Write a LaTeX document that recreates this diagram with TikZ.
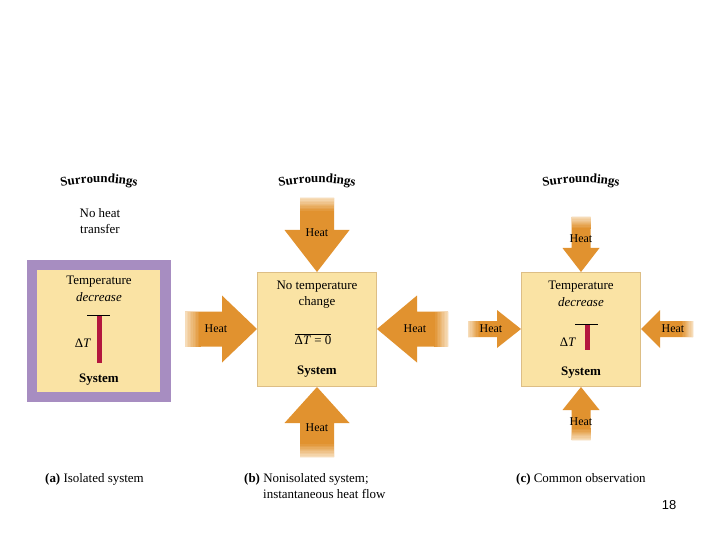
\documentclass[tikz,border=0pt]{standalone}
\usepackage{fontspec}
\setmainfont{Liberation Serif}
\newfontfamily\sansf{Liberation Sans}
\usetikzlibrary{decorations.text}
\definecolor{heatorange}{HTML}{E1922F}
\definecolor{heatlight}{HTML}{F8E4C8}
\definecolor{sysyellow}{HTML}{FAE3A4}
\definecolor{sysedge}{HTML}{DDBE85}
\definecolor{isopurple}{HTML}{A78DC1}
\definecolor{thermred}{HTML}{B3173E}
% manual fade strips: x0,y0 of strip start, dx,dy step per strip, w,h of strip
\newcommand\fadestrips[6]{%
  \foreach \k in {0,...,9}{%
    \pgfmathsetmacro\pc{100-(9-\k)*10}%
    \fill[heatorange!\pc!heatlight] (#1+\k*#3,#2+\k*#4) rectangle ++(#5,#6);}}
% tipx, tipy, headlen, headhalf, shafthalf, shaftlen, fadelen
\newcommand\arrowR[7]{%
  \fill[heatorange] (#1,#2) -- ++(-#3,-#4) -- ++(0,#4-#5) -- ++(-#6,0) -- ++(0,2*#5) -- ++(#6,0) -- ++(0,#4-#5) -- cycle;
  \fadestrips{#1-#3-#6}{#2-#5}{#7/10}{0}{#7/10+0.3}{2*#5}}
\newcommand\arrowL[7]{%
  \fill[heatorange] (#1,#2) -- ++(#3,-#4) -- ++(0,#4-#5) -- ++(#6,0) -- ++(0,2*#5) -- ++(-#6,0) -- ++(0,#4-#5) -- cycle;
  \fadestrips{#1+#3+#6}{#2-#5}{-#7/10}{0}{-#7/10-0.3}{2*#5}}
\newcommand\arrowD[7]{%
  \fill[heatorange] (#1,#2) -- ++(-#4,-#3) -- ++(#4-#5,0) -- ++(0,-#6) -- ++(2*#5,0) -- ++(0,#6) -- ++(#4-#5,0) -- cycle;
  \fadestrips{#1-#5}{#2-#3-#6}{0}{#7/10}{2*#5}{#7/10+0.3}}
\newcommand\arrowU[7]{%
  \fill[heatorange] (#1,#2) -- ++(-#4,#3) -- ++(#4-#5,0) -- ++(0,#6) -- ++(2*#5,0) -- ++(0,-#6) -- ++(#4-#5,0) -- cycle;
  \fadestrips{#1-#5}{#2+#3+#6}{0}{-#7/10}{2*#5}{-#7/10-0.3}}
\tikzset{
  sysbox/.style={fill=sysyellow,draw=sysedge,line width=0.6pt,inner sep=0pt,outer sep=0pt},
  isobox/.style={fill=isopurple,inner sep=0pt,outer sep=0pt},
  heatlbl/.style={font=\fontsize{12}{14}\selectfont,inner sep=1pt},
  caption/.style={anchor=base west,inner sep=0pt,font=\fontsize{13}{15}\selectfont},
  surr/.style={decorate,decoration={text along path,text align=center,
      text={|\bfseries\fontsize{13}{15}\selectfont|Surroundings}}},
  thermline/.style={line width=0.8pt,black},
}
\begin{document}
\begin{tikzpicture}[x=1bp,y=-1bp,font=\fontsize{13}{16}\selectfont]
\useasboundingbox (0,0) rectangle (720,540);
\fill[white] (0,0) rectangle (720,540);

% ---------- panel (a) ----------
\path[surr] (55,188) .. controls (84,181) and (114,181) .. (143,188);
\node[align=center] (nhA) at (100,221) {No heat\\transfer};
\node[isobox,minimum width=144,minimum height=142] (isoA) at (99,331) {};
\node[sysbox,draw=none,minimum width=123,minimum height=122] (sysA) at (98.5,331) {};
\node (tA) at (99,282) {Temperature};
\node (dA) at (99,297) {\itshape decrease};
\draw[thermline] (87,315) -- (110,315);
\fill[thermred] (96.5,316) rectangle (101.5,363);
\node (dTA) at (83,343) {Δ\textit{T}};
\node (sA) at (99,380) {\bfseries System};

% ---------- panel (b) ----------
\path[surr] (272,188) .. controls (302,181) and (332,181) .. (362,188);
\arrowD{317}{272}{42}{32.5}{17}{32}{14}
\arrowR{257}{329}{35}{33.5}{17.5}{37}{16}
\arrowL{377}{329}{40}{33.5}{17.5}{31}{14}
\arrowU{317}{387}{36}{32.5}{17}{34}{14}
\node[sysbox,minimum width=120,minimum height=115] (sysB) at (317,329.5) {};
\node[align=center] (tB) at (317,294.5) {No temperature\\change};
\node (dTB) at (313,339) {$\overline{\mbox{Δ\textit{T} = 0}}$};
\node (sB) at (317,372) {\bfseries System};
\node[heatlbl] (hBt) at (317,233) {Heat};
\node[heatlbl] (hBl) at (216,329) {Heat};
\node[heatlbl] (hBr) at (415,329) {Heat};
\node[heatlbl] (hBb) at (317,428) {Heat};

% ---------- panel (c) ----------
\path[surr] (536,188) .. controls (566,181) and (596,181) .. (626,188);
\arrowD{581}{272}{24}{18.5}{9.5}{31}{12}
\arrowR{521}{329}{24}{19}{8}{29}{12}
\arrowL{641}{329}{19}{19}{8}{33}{12}
\arrowU{581}{387}{23}{18.5}{9.5}{30}{12}
\node[sysbox,minimum width=120,minimum height=115] (sysC) at (581,329.5) {};
\node (tC) at (581,287) {Temperature};
\node (dC) at (581,302) {\itshape decrease};
\draw[thermline] (575,324) -- (598,324);
\fill[thermred] (584.5,325) rectangle (589.5,350);
\node (dTC) at (568,342) {Δ\textit{T}};
\node (sC) at (581,373) {\bfseries System};
\node[heatlbl] (hCt) at (581,239) {Heat};
\node[heatlbl] (hCl) at (491,329) {Heat};
\node[heatlbl] (hCr) at (673,329) {Heat};
\node[heatlbl] (hCb) at (581,422) {Heat};

% ---------- captions ----------
\node[caption] (capA) at (45,482) {\textbf{(a)} Isolated system};
\node[caption] (capB1) at (244,482) {\textbf{(b)} Nonisolated system;};
\node[caption] (capB2) at (263,498) {instantaneous heat flow};
\node[caption] (capC) at (516,482) {\textbf{(c)} Common observation};
\node[font=\sansf\fontsize{13}{15}\selectfont] (pg) at (669,505) {18};
\end{tikzpicture}
\end{document}
